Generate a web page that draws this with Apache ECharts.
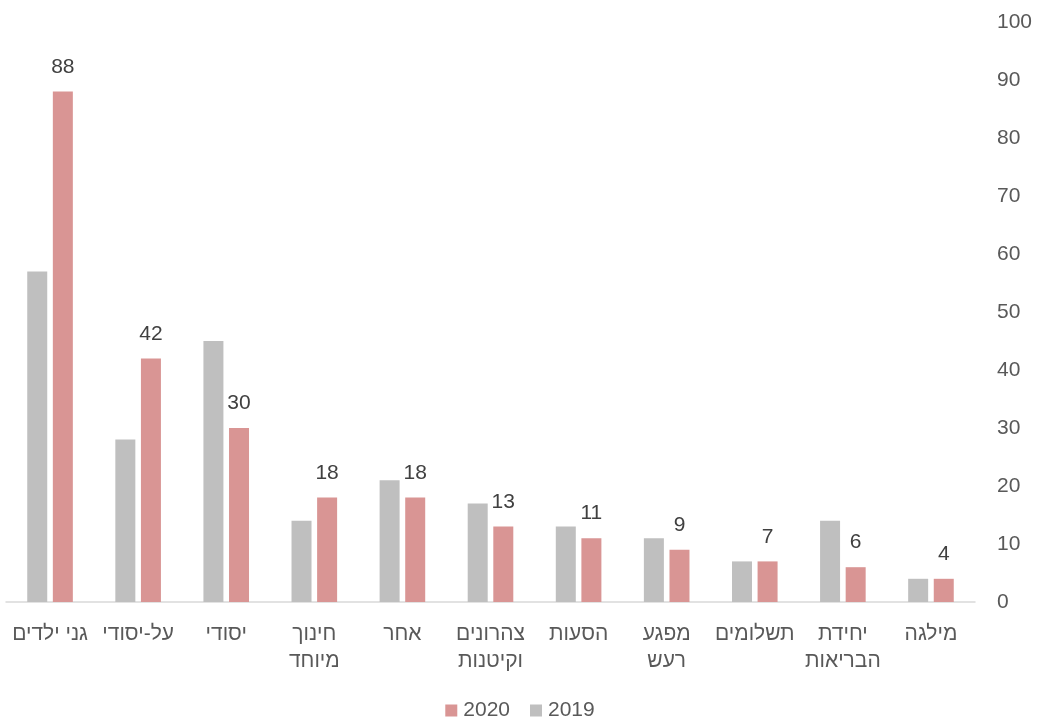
<!DOCTYPE html>
<html>
<head>
<meta charset="utf-8">
<script src="https://cdn.jsdelivr.net/npm/echarts@6/dist/echarts.min.js"></script>
<style>html,body{margin:0;padding:0;background:#fff}#c{width:1040px;height:722px}</style>
</head>
<body>
<div id="c"></div>
<script>
const categories = ['גני ילדים', 'על-יסודי', 'יסודי', 'חינוך\nמיוחד', 'אחר', 'צהרונים\nוקיטנות', 'הסעות', 'מפגע\nרעש', 'תשלומים', 'יחידת\nהבריאות', 'מילגה'];
const values2019 = [57, 28, 45, 14, 21, 17, 13, 11, 7, 14, 4];
const values2020 = [88, 42, 30, 18, 18, 13, 11, 9, 7, 6, 4];
const yTicks = { min: 0, max: 100, interval: 10 };

const chart = echarts.init(document.getElementById('c'), null, { renderer: 'canvas' });
const font = '"Liberation Sans", Arial, "DejaVu Sans", sans-serif';
chart.setOption({
  animation: false,
  textStyle: { fontFamily: font },
  grid: { left: 6, right: 65, top: 22, bottom: 120 },
  legend: {
    data: ['2020', '2019'],
    bottom: -4,
    left: 'center',
    itemWidth: 12, itemHeight: 12, itemGap: 20,
    icon: 'rect',
    textStyle: { fontSize: 21, color: '#595959', fontFamily: font, padding: [0, 0, 0, 1] }
  },
  xAxis: {
    type: 'category',
    data: categories,
    axisLine: { lineStyle: { color: '#D9D9D9', width: 1.5 } },
    axisTick: { show: false },
    axisLabel: { fontSize: 21, color: '#595959', margin: 19, lineHeight: 27, interval: 0, fontFamily: font }
  },
  yAxis: {
    type: 'value',
    position: 'right',
    min: yTicks.min, max: yTicks.max, interval: yTicks.interval,
    splitLine: { show: false },
    axisLine: { show: false },
    axisTick: { show: false },
    axisLabel: { fontSize: 21, color: '#595959', margin: 22, align: 'left', fontFamily: font }
  },
  series: [
    {
      name: '2019', type: 'bar', data: values2019,
      barWidth: 20, barGap: '28%',
      itemStyle: { color: '#BFBFBF' }
    },
    {
      name: '2020', type: 'bar', data: values2020,
      barWidth: 20,
      itemStyle: { color: '#D99594' },
      label: { show: true, position: 'top', distance: 14, fontSize: 21, color: '#404040', fontFamily: font }
    }
  ]
});
</script>
</body>
</html>
